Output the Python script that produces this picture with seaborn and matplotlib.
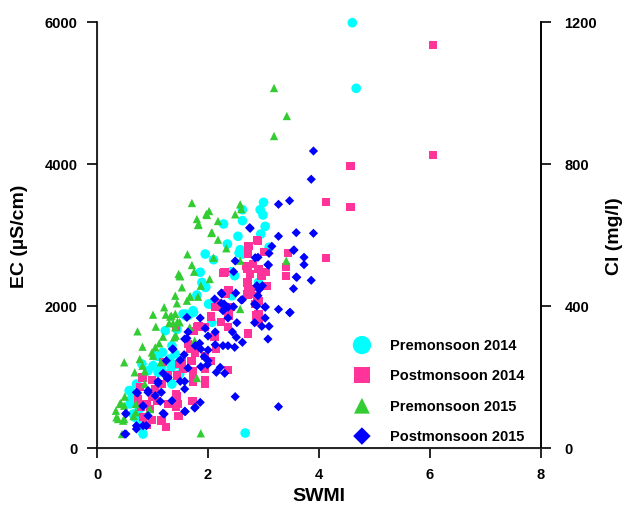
import matplotlib
matplotlib.use("Agg")
import matplotlib.pyplot as plt
import seaborn as sns
import pandas as pd

# ---------------- data ----------------
pre14_swmi = [4.60, 4.67, 2.67, 3.00, 2.94, 2.99, 3.03, 2.95, 3.10, 2.91, 2.62, 2.62, 2.28, 2.54, 2.35,
              1.95, 2.10, 2.58, 2.62, 2.42, 1.86, 2.48, 1.89, 1.96, 2.56, 2.43, 1.55, 1.73, 2.03, 2.07,
              1.49, 1.49, 1.23, 1.35, 1.18, 0.81, 1.01, 1.10, 0.92, 0.71, 0.59, 0.65, 0.83, 0.59, 0.65,
              0.74, 0.77, 1.41, 1.44, 1.26, 1.35, 1.08, 1.44, 1.80, 2.01, 1.74, 1.65, 1.95, 1.59, 1.03,
              0.58, 0.62, 0.68, 0.76, 0.89, 1.10, 1.16, 1.34, 1.31, 1.60]
pre14_ec = [5990, 5066, 211, 3460, 3356, 3282, 3122, 3014, 2827, 2333, 3356, 3202, 3155, 2982, 2873,
            2732, 2652, 2793, 2732, 2483, 2475, 2427, 2333, 2268, 2746, 2145, 1887, 1934, 2028, 1770,
            1183, 1042, 1652, 1441, 1347, 1183, 1159, 1066, 1089, 901, 808, 761, 197, 620, 479,
            408, 314, 1324, 1183, 1042, 901, 808, 1670, 2155, 2028, 1911, 1870, 2263, 1887, 1300,
            808, 690, 432, 549, 432, 1290, 1136, 1136, 1253, 1859]

post14_swmi = [6.05, 6.05, 4.57, 4.13, 4.57, 4.13, 3.44, 3.41, 3.41, 3.01, 2.90, 3.05, 2.95, 3.06,
               2.73, 2.88, 2.72, 2.69, 2.76, 2.30, 2.71, 2.37, 2.77, 2.92, 2.91, 2.92,
               2.06, 2.24, 1.81, 1.94, 2.36, 2.12, 1.64, 2.15, 1.76, 1.94, 2.06, 1.70, 1.52, 2.36,
               1.73, 1.95, 1.95, 1.73, 1.55, 1.73, 1.46, 2.72, 2.78, 1.73, 2.42, 2.18, 2.16, 2.87,
               1.42, 1.19, 0.81, 0.99, 1.16, 1.05, 0.99, 0.89, 0.95, 0.83, 0.99, 1.16, 1.24, 0.89,
               1.42, 1.42, 0.79, 1.29, 2.81, 2.91, 2.71, 2.97, 2.28, 3.03, 2.73, 2.33, 2.88, 2.71,
               2.85, 2.13, 2.91, 2.37, 1.74, 1.83, 1.68, 1.48, 1.44, 1.27, 1.44, 1.08, 0.74, 1.47,
               1.71, 0.82, 0.77, 1.95]
post14_ec = [5680, 4131, 3976, 3469, 3399, 2680, 2746, 2550, 2420, 2756, 2920, 2475, 2427, 2286,
             2841, 2934, 2732, 2568, 2451, 2475, 2333, 2230, 2225, 2075, 1864, 1770,
             1850, 1770, 1700, 1700, 1700, 1559, 1465, 1394, 1347, 1300, 1230, 1230, 1207, 1099,
             1042, 901, 960, 925, 1113, 666, 620, 1615, 2169, 1080, 1982, 1982, 2040, 1864,
             1700, 1207, 995, 958, 901, 831, 723, 620, 549, 432, 394, 385, 300, 320,
             761, 573, 580, 620, 2592, 2521, 2521, 2418, 2465, 2286, 2239, 2175, 2140, 2160,
             2028, 1982, 1887, 1864, 1652, 1723, 1394, 1183, 1019, 1019, 737, 666, 690, 455,
             666, 986, 855, 1113]

pre15_swmi = [3.19, 3.42, 3.19, 3.41, 1.87, 1.71, 2.58, 2.02, 1.98, 1.80, 2.49, 2.60, 1.82, 2.18,
              2.06, 2.18, 2.33, 1.63, 2.10, 1.71, 1.75, 1.49, 2.03, 1.53, 1.87, 2.58, 2.58,
              1.67, 1.82, 1.67, 1.76, 1.49, 1.80, 1.41, 1.44, 1.01, 1.24, 1.32, 1.37, 0.73, 1.06,
              1.19, 1.39, 0.82, 1.12, 1.05, 0.99, 0.77, 0.49, 0.82, 0.68, 0.86, 1.01, 1.15, 0.86,
              0.50, 0.41, 0.34, 0.49, 0.38, 0.49, 0.45, 0.70, 0.70, 0.95, 0.66, 1.41, 1.21, 1.41,
              1.50, 1.47, 1.62, 1.68, 1.34, 1.45, 1.30, 1.42, 0.43, 0.35, 0.47, 1.97, 2.07, 1.83]
pre15_ec = [5070, 4676, 4394, 2638, 207, 3451, 3432, 3338, 3282, 3225, 3291, 3366, 3141, 3197,
            3028, 2934, 2813, 2728, 2680, 2577, 2483, 2427, 2380, 2263, 2286, 2638, 1958,
            2131, 2131, 1700, 1512, 1770, 986, 2145, 2038, 1878, 1878, 1850, 1756, 1643, 1709,
            1568, 1559, 1427, 1474, 1418, 1347, 1253, 1207, 1159, 1066, 1080, 1300, 1207, 901,
            723, 620, 525, 596, 408, 408, 197, 620, 503, 549, 450, 1700, 1982, 1890,
            2418, 2451, 2075, 2136, 1864, 1779, 1760, 1582, 634, 432, 385, 3296, 3038, 3150]

post15_swmi = [3.90, 3.86, 3.27, 3.47, 3.59, 3.90, 3.27, 3.15, 3.10, 3.54, 3.73, 3.73, 3.08, 3.59,
               3.86, 3.54, 2.98, 2.90, 2.75, 2.49, 2.46, 2.85, 2.24, 2.50, 2.90, 3.03, 3.27, 3.47,
               3.03, 2.97, 3.10, 3.08, 3.27, 1.86, 2.36, 2.52, 2.84, 1.64, 2.13, 2.44, 2.00, 1.58,
               2.51, 1.85, 2.27, 2.36, 2.13, 2.48, 2.62, 1.87, 2.00, 1.57, 1.93, 2.00, 1.99, 1.87,
               1.64, 2.22, 2.15, 2.30, 1.58, 1.58, 2.49, 1.86, 1.76, 1.58, 1.50, 2.84, 2.60, 2.24,
               2.36, 2.46, 2.12, 2.27, 1.36, 1.25, 1.19, 1.10, 1.28, 1.10, 0.71, 0.92, 1.16, 1.05,
               1.14, 1.19, 0.83, 1.35, 0.52, 0.92, 0.71, 0.83, 0.71, 0.50, 2.76, 3.55, 3.09, 3.60,
               2.88, 2.92, 2.25, 2.62, 2.29, 3.48, 3.03, 2.88, 1.62, 1.95, 1.62, 1.37, 1.77, 1.50,
               1.27, 0.73, 0.92, 0.83, 0.52, 0.52, 1.21, 1.59, 1.77, 0.89]
post15_ec = [4183, 3785, 3432, 3483, 3033, 3024, 2982, 2841, 2742, 2784, 2686, 2582, 2582, 2408,
             2362, 2244, 2286, 2686, 3103, 2634, 2483, 2680, 2183, 2183, 2145, 1982, 1953, 1906,
             1831, 1714, 1714, 1535, 582, 1831, 1831, 1765, 1765, 1634, 1634, 1634, 1577, 1535,
             1559, 1474, 1441, 1441, 1455, 1418, 1488, 1394, 1380, 1314, 1286, 1230, 1173, 1145,
             1127, 1136, 1066, 1052, 939, 831, 723, 643, 563, 517, 939, 2028, 2084, 2038,
             1982, 1990, 2099, 1934, 1394, 1230, 1052, 939, 995, 911, 784, 784, 784, 737,
             657, 489, 596, 666, 489, 455, 314, 314, 268, 197, 3094, 2789, 2577, 2404,
             2286, 2230, 2169, 2089, 2028, 1911, 1990, 2000, 1840, 1686, 1545, 1394, 1441, 1239,
             981, 775, 808, 587, 479, 197, 479, 512, 573, 314]

series_names = ["Premonsoon 2014", "Postmonsoon 2014", "Premonsoon 2015", "Postmonsoon 2015"]
x_ticks = [0, 2, 4, 6, 8]
y_ticks = [0, 2000, 4000, 6000]
cl_ticks = [0, 400, 800, 1200]

# ---------------- styling ----------------
sns.set_style("ticks")
plt.rcParams["font.family"] = ["Liberation Sans", "DejaVu Sans"]
plt.rcParams["font.weight"] = "bold"
plt.rcParams["axes.labelcolor"] = "black"
plt.rcParams["text.color"] = "black"

colors = {"Premonsoon 2014": "#00FFFF", "Postmonsoon 2014": "#FF3399",
          "Premonsoon 2015": "#33CC33", "Postmonsoon 2015": "#0000FF"}
markers = {"Premonsoon 2014": "o", "Postmonsoon 2014": "s",
           "Premonsoon 2015": "^", "Postmonsoon 2015": "D"}
sizes = {"Premonsoon 2014": 48, "Postmonsoon 2014": 36,
         "Premonsoon 2015": 36, "Postmonsoon 2015": 22}

frames = []
for name, xs, ys in zip(series_names,
                        [pre14_swmi, post14_swmi, pre15_swmi, post15_swmi],
                        [pre14_ec, post14_ec, pre15_ec, post15_ec]):
    frames.append(pd.DataFrame({"SWMI": xs, "EC": ys, "Season": name}))
df = pd.concat(frames, ignore_index=True)

fig = plt.figure(figsize=(6.27, 5.10), dpi=100)
ax = fig.add_axes([97 / 627, 61 / 510, 444 / 627, 426 / 510])

for name in series_names:
    sub = df[df["Season"] == name]
    sns.scatterplot(data=sub, x="SWMI", y="EC", ax=ax, color=colors[name],
                    marker=markers[name], s=sizes[name], linewidth=0,
                    edgecolor="none", label=name, clip_on=False, zorder=3)

ax.set_xlim(0, 8)
ax.set_ylim(0, 6000)
ax.set_xticks(x_ticks)
ax.set_yticks(y_ticks)
ax.set_xticklabels([str(t) for t in x_ticks])
ax.set_yticklabels([str(t) for t in y_ticks])
ax.set_xlabel("SWMI", fontsize=14, fontweight="bold", labelpad=4, color="black")
ax.set_ylabel("EC (µS/cm)", fontsize=14, fontweight="bold", labelpad=12, color="black")
ax.tick_params(axis="both", direction="out", length=7, width=1.2, pad=7,
               labelsize=10.5, colors="black")
for lab in ax.get_xticklabels() + ax.get_yticklabels():
    lab.set_fontweight("bold")
ax.spines["top"].set_visible(False)
for sp in ["left", "bottom", "right"]:
    ax.spines[sp].set_linewidth(1.2)
    ax.spines[sp].set_color("black")

ax2 = ax.twinx()
ax2.set_ylim(0, 1200)
ax2.set_yticks(cl_ticks)
ax2.set_yticklabels([str(t) for t in cl_ticks])
ax2.set_ylabel("Cl (mg/l)", fontsize=14, fontweight="bold", labelpad=6, color="black")
ax2.tick_params(axis="y", direction="out", length=7, width=1.2, pad=10,
                labelsize=10.5, colors="black")
for lab in ax2.get_yticklabels():
    lab.set_fontweight("bold")
ax2.spines["top"].set_visible(False)
ax2.spines["right"].set_linewidth(1.2)
ax2.spines["right"].set_color("black")

leg = ax.legend(loc="lower right", bbox_to_anchor=(0.962, 0.012), frameon=False,
                prop={"weight": "bold", "size": 10.5}, labelspacing=1.12,
                handlelength=1.0, handletextpad=1.4, borderpad=0, borderaxespad=0,
                markerscale=1.9)

fig.savefig("out.png", dpi=100)
